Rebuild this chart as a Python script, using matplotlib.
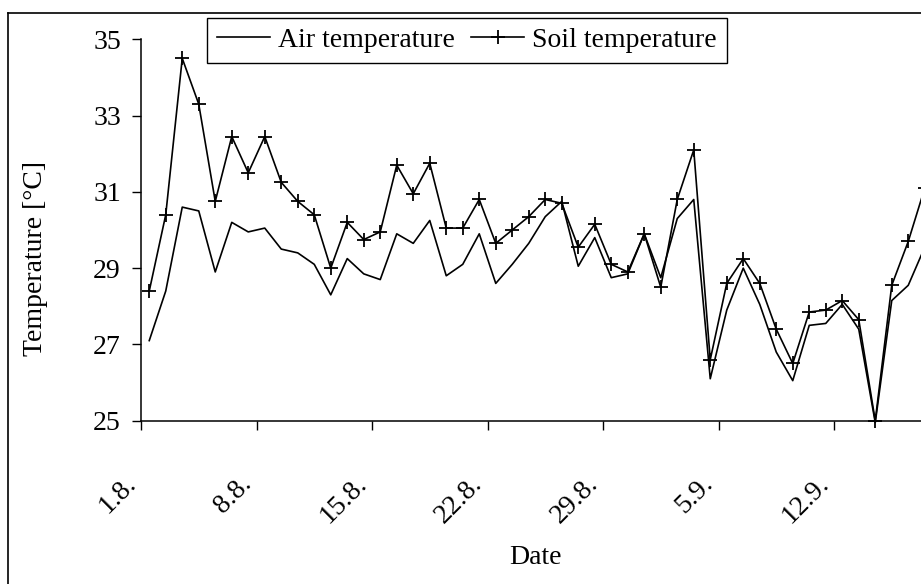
import matplotlib
matplotlib.use('Agg')
import matplotlib.pyplot as plt
from matplotlib.lines import Line2D
import numpy as np

# daily values from 1.8. onwards
air = [27.1, 28.4, 30.6, 30.5, 28.9, 30.2, 29.95, 30.05, 29.5, 29.4,
       29.1, 28.3, 29.25, 28.85, 28.7, 29.9, 29.65, 30.25, 28.8, 29.1,
       29.9, 28.6, 29.1, 29.65, 30.35, 30.75, 29.05, 29.8, 28.75, 28.85,
       29.9, 28.75, 30.3, 30.8, 26.1, 27.9, 29.0, 28.05, 26.8, 26.05,
       27.5, 27.55, 28.05, 27.4, 24.95, 28.15, 28.55, 29.55]
soil = [28.4, 30.4, 34.5, 33.3, 30.75, 32.45, 31.5, 32.45, 31.25, 30.75,
        30.4, 29.0, 30.2, 29.75, 29.95, 31.7, 30.95, 31.75, 30.05, 30.05,
        30.8, 29.65, 30.0, 30.35, 30.8, 30.7, 29.55, 30.15, 29.1, 28.9,
        29.9, 28.5, 30.8, 32.1, 26.6, 28.6, 29.25, 28.6, 27.4, 26.5,
        27.85, 27.9, 28.15, 27.65, 25.0, 28.55, 29.7, 31.1]
tick_labels = ['1.8.', '8.8.', '15.8.', '22.8.', '29.8.', '5.9.', '12.9.']
y_ticks = [25, 27, 29, 31, 33, 35]

plt.rcParams['font.family'] = ['Liberation Serif', 'DejaVu Serif']
plt.rcParams['font.size'] = 20

W, H = 921, 584
fig = plt.figure(figsize=(W / 100, H / 100), dpi=100)
ax = fig.add_axes([141 / W, 1 - 420.7 / H, (933 - 141) / W, (420.7 - 39.3) / H])

x = np.arange(len(air))
ax.plot(x, air, color='black', lw=1.2, label='Air temperature', clip_on=False)
ax.plot(x, soil, color='black', lw=1.2, marker='+', markersize=10, mew=1.3,
        label='Soil temperature', clip_on=False)

ax.set_xlim(-0.5, len(air) - 0.5)
ax.set_ylim(25, 35)
ax.set_yticks(y_ticks)
ax.set_xticks(np.arange(len(tick_labels)) * 7 - 0.5)
ax.set_xticklabels(tick_labels, rotation=45, ha='right', va='top')
ax.tick_params(direction='out', length=6.5, width=1, colors='black')
ax.tick_params(axis='x', pad=30)
ax.tick_params(axis='y', pad=8)
for s in ['top', 'right']:
    ax.spines[s].set_visible(False)
for s in ['left', 'bottom']:
    ax.spines[s].set_linewidth(1.1)

fig.text(535 / W, 1 - 558 / H, 'Date', ha='center', va='center')
fig.text(36 / W, 1 - 258 / H, 'Temperature [°C]', ha='center', va='center', rotation=90)

leg = ax.legend(loc='upper left', bbox_to_anchor=(207 / W, 1 - 18 / H),
                bbox_transform=fig.transFigure, ncol=2, numpoints=1,
                frameon=True, fancybox=False, framealpha=1, edgecolor='black',
                handlelength=1.9, handletextpad=0.3, columnspacing=0.6,
                borderpad=0.35, borderaxespad=0)
leg.get_frame().set_linewidth(1.0)

# chart area border (cut off at right and bottom)
fig.add_artist(Line2D([8 / W, 8 / W], [0, 1 - 13 / H], transform=fig.transFigure,
                      color='black', lw=1.2))
fig.add_artist(Line2D([8 / W, 1], [1 - 13 / H, 1 - 13 / H], transform=fig.transFigure,
                      color='black', lw=1.2))

fig.savefig('out.png', dpi=100)
